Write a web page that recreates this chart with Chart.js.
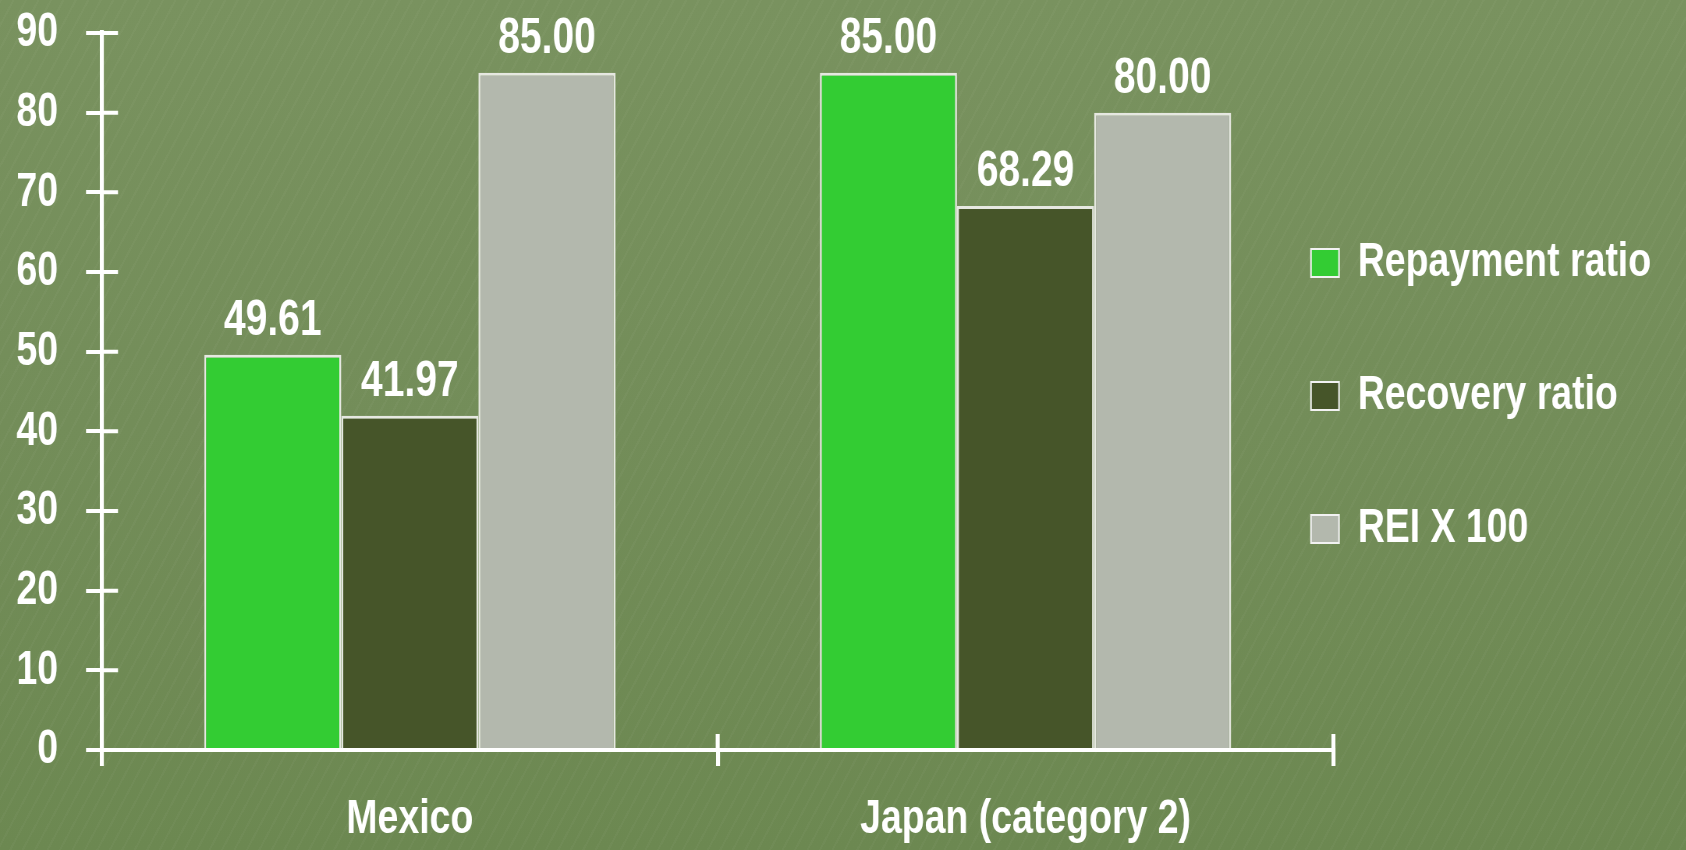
<!DOCTYPE html>
<html>
<head>
<meta charset="utf-8">
<script src="https://cdn.jsdelivr.net/npm/chart.js@4.4.1/dist/chart.umd.min.js"></script>
<style>
  html, body { margin: 0; padding: 0; overflow: hidden; }
  body {
    width: 1686px; height: 850px;
    background:
      repeating-linear-gradient(118deg, rgba(255,255,255,0.028) 0px, rgba(255,255,255,0.028) 2px, rgba(0,0,0,0) 2px, rgba(0,0,0,0) 11px),
      linear-gradient(180deg, #79925f 0%, #738d59 50%, #6c8851 100%);
  }
  canvas { display: block; transform-origin: 0 0; }
</style>
</head>
<body>
<canvas id="c"></canvas>
<script>
// ---- data ----
const categories = ['Mexico', 'Japan (category 2)'];
const seriesNames = ['Repayment ratio', 'Recovery ratio', 'REI X 100'];
const repaymentRatio = [49.61, 85.00];
const recoveryRatio = [41.97, 68.29];
const reiX100 = [85.00, 80.00];
const yMin = 0, yMax = 90, yStep = 10;

// ---- styles / layout ----
// The original lettering is a horizontally condensed bold sans; the canvas is drawn
// wider and compressed horizontally by S to reproduce that look.
const S = 0.78;
const W = 1686, H = 850;
const CW = Math.round(W / S);
const FONT = '"Liberation Sans", Arial, sans-serif';
const seriesColors = ['#33cc33', '#465529', '#b3b8ad'];
const WHITE = '#ffffff';

const cv = document.getElementById('c');
cv.width = CW; cv.height = H;
cv.style.width = CW + 'px'; cv.style.height = H + 'px';
cv.style.transform = 'scaleX(' + S + ')';

Chart.defaults.font.family = FONT;
Chart.defaults.color = WHITE;

const crossTicks = {
  id: 'crossTicks',
  afterDraw(chart) {
    const { ctx, scales: { x, y } } = chart;
    ctx.save();
    ctx.strokeStyle = WHITE;
    ctx.lineWidth = 4;
    ctx.beginPath();
    y.ticks.forEach(t => {
      const py = y.getPixelForValue(t.value);
      ctx.moveTo(y.right, py);
      ctx.lineTo(y.right + 16 / S, py);
    });
    ctx.stroke();
    ctx.lineWidth = 4 / S;
    ctx.beginPath();
    const bounds = [];
    for (let i = 0; i < categories.length - 1; i++) {
      bounds.push((x.getPixelForValue(i) + x.getPixelForValue(i + 1)) / 2);
    }
    bounds.push(x.right);
    bounds.forEach(px => {
      ctx.moveTo(px, x.top);
      ctx.lineTo(px, x.top - 16);
    });
    ctx.stroke();
    ctx.restore();
  }
};

const valueLabels = {
  id: 'valueLabels',
  afterDatasetsDraw(chart) {
    const ctx = chart.ctx;
    ctx.save();
    ctx.font = 'bold 50px ' + FONT;
    ctx.fillStyle = WHITE;
    ctx.textAlign = 'center';
    ctx.textBaseline = 'alphabetic';
    chart.data.datasets.forEach((ds, i) => {
      chart.getDatasetMeta(i).data.forEach((bar, j) => {
        ctx.fillText(Number(ds.data[j]).toFixed(2), bar.x, bar.y - 20);
      });
    });
    ctx.restore();
  }
};

const legendPlace = {
  id: 'legendPlace',
  afterLayout(chart) {
    const lg = chart.legend;
    if (!lg) return;
    const P = lg.options.labels.padding;
    lg.left = 1311 / S - P;
    lg.width = lg.right - lg.left;
    lg.top = 239 - P;
    lg.height = lg.bottom - lg.top;
  }
};

new Chart(cv, {
  type: 'bar',
  data: {
    labels: categories,
    datasets: [
      { label: seriesNames[0], data: repaymentRatio, backgroundColor: seriesColors[0] },
      { label: seriesNames[1], data: recoveryRatio, backgroundColor: seriesColors[1] },
      { label: seriesNames[2], data: reiX100, backgroundColor: seriesColors[2] }
    ]
  },
  options: {
    responsive: false,
    animation: false,
    devicePixelRatio: 1,
    layout: { padding: { top: 33, left: 0, right: 0, bottom: 0 } },
    datasets: {
      bar: {
        categoryPercentage: 0.668,
        barPercentage: 1,
        borderColor: '#e6e8e1',
        borderWidth: { top: 3, left: 2 / S, right: 2 / S, bottom: 0 }
      }
    },
    scales: {
      x: {
        grid: { drawOnChartArea: false, drawTicks: true, tickLength: 16, color: WHITE, lineWidth: 4 / S, offset: true },
        border: { display: true, color: WHITE, width: 4 },
        ticks: { font: { size: 48, weight: 'bold' }, color: WHITE, padding: 25, maxRotation: 0 },
        afterFit(s) { s.height = 100; s.paddingLeft = 0; s.paddingRight = 0; }
      },
      y: {
        min: yMin, max: yMax,
        grid: { drawOnChartArea: false, drawTicks: true, tickLength: 16 / S, color: WHITE, lineWidth: 4 },
        border: { display: true, color: WHITE, width: 4 / S },
        ticks: { stepSize: yStep, font: { size: 48, weight: 'bold' }, color: WHITE, padding: 28 / S },
        afterFit(s) { s.width = 102 / S; s.paddingTop = 0; s.paddingBottom = 0; }
      }
    },
    plugins: {
      tooltip: { enabled: false },
      legend: {
        position: 'right',
        align: 'start',
        maxWidth: (W - 1333) / S,
        labels: {
          boxWidth: 28 / S, boxHeight: 28, padding: 85,
          color: WHITE,
          font: { size: 48, weight: 'bold' },
          generateLabels(chart) {
            return Chart.defaults.plugins.legend.labels.generateLabels(chart).map(l => {
              l.lineWidth = 2; l.strokeStyle = '#f2f2f2'; l.fontColor = WHITE; return l;
            });
          }
        }
      }
    }
  },
  plugins: [crossTicks, valueLabels, legendPlace]
});
</script>
</body>
</html>
